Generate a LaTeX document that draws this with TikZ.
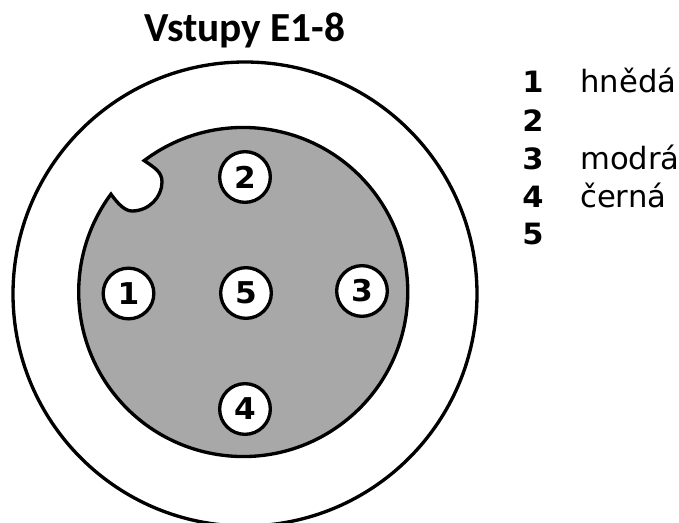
\documentclass[tikz,border=0pt]{standalone}
\usepackage{fontspec}
\setmainfont{DejaVu Sans}
\newfontfamily\ttl{Carlito}
\newfontfamily\wide[FakeStretch=1.04]{DejaVu Sans}
\tikzset{pin/.style={circle,draw=black,line width=2.5pt,fill=white,minimum size=38pt,inner sep=0pt,font=\fontsize{22.5}{22.5}\selectfont\wide\bfseries},
num/.style={anchor=base west,inner sep=0pt,font=\fontsize{22}{22}\selectfont\wide\bfseries},
lab/.style={anchor=base west,inner sep=0pt,font=\fontsize{23}{23}\selectfont},
edge/.style={line width=2.5pt,line join=miter,miter limit=6}}
\begin{document}
\begin{tikzpicture}[x=0.75pt,y=0.75pt]
\useasboundingbox (0,0) rectangle (679,522);
\begin{scope}
\clip (0,0) rectangle (679,522);
\draw[edge,fill=white] (245,228) circle[radius=174pt];
\coordinate (ca) at (144.2,361.4);
\draw[edge,fill=black!34] (ca) arc[start angle=127,end angle=-216.5,radius=123.4pt]
 .. controls (118,318) and (125,311) .. (132,311)
 .. controls (149,311) and (162,325) .. (162,340)
 .. controls (162,350) and (155,354) .. (ca) -- cycle;
\end{scope}
\node[anchor=base,inner sep=0,font=\fontsize{31}{31}\selectfont\ttl\bfseries] (t) at (245,480) {Vstupy E1-8};
\node[pin] (p2) at (245,345) {2};
\node[pin] (p1) at (128.5,228.5) {1};
\node[pin] (p5) at (246,229) {5};
\node[pin] (p3) at (362,231) {3};
\node[pin] (p4) at (245,113) {4};
\node[num] (n1) at (522,429) {1};
\node[num] (n2) at (522,390) {2};
\node[num] (n3) at (522,352) {3};
\node[num] (n4) at (522,314) {4};
\node[num] (n5) at (522,277) {5};
\node[lab] (l1) at (580,429) {hnědá};
\node[lab] (l3) at (580,352) {modrá};
\node[lab] (l4) at (580,314) {černá};
\end{tikzpicture}
\end{document}
